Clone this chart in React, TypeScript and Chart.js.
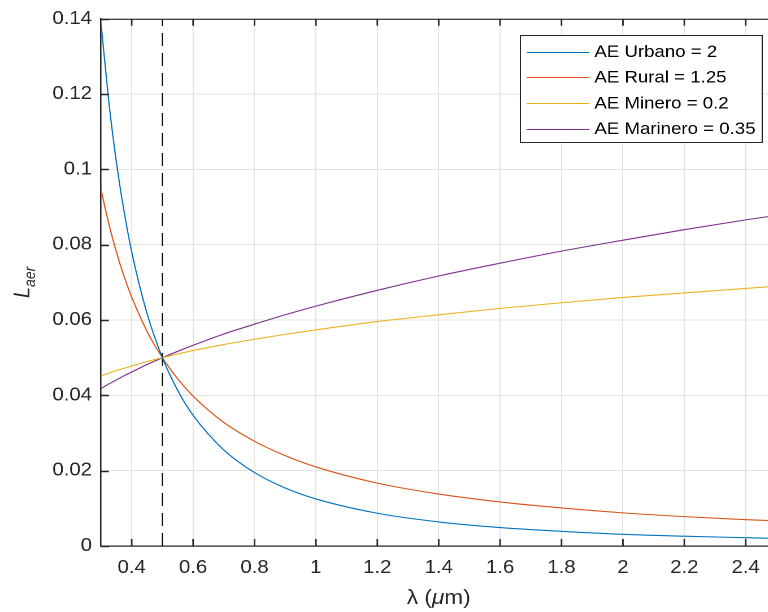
import React, { useEffect, useRef } from "react";
import { Chart, registerables } from "chart.js";

Chart.register(...registerables);

// Wavelength samples (µm)
const lambda = [0.3, 0.325, 0.35, 0.375, 0.4, 0.45, 0.5, 0.55, 0.6, 0.7, 0.8, 0.9, 1.0, 1.2, 1.4, 1.6, 1.8, 2.0, 2.2, 2.4, 2.5];

// Aerosol term for each aerosol type
const urbano = [0.1389, 0.1183, 0.102, 0.0889, 0.0781, 0.0617, 0.05, 0.0413, 0.0347, 0.0255, 0.0195, 0.0154, 0.0125, 0.0087, 0.0064, 0.0049, 0.0039, 0.0031, 0.0026, 0.0022, 0.002];
const rural = [0.0947, 0.0857, 0.0781, 0.0716, 0.0661, 0.057, 0.05, 0.0444, 0.0398, 0.0328, 0.0278, 0.024, 0.021, 0.0167, 0.0138, 0.0117, 0.0101, 0.0088, 0.0078, 0.007, 0.0067];
const minero = [0.0451, 0.0459, 0.0466, 0.0472, 0.0478, 0.049, 0.05, 0.051, 0.0519, 0.0535, 0.0549, 0.0562, 0.0574, 0.0596, 0.0614, 0.0631, 0.0646, 0.066, 0.0672, 0.0684, 0.069];
const marinero = [0.0418, 0.043, 0.0441, 0.0452, 0.0462, 0.0482, 0.05, 0.0517, 0.0533, 0.0563, 0.0589, 0.0614, 0.0637, 0.0679, 0.0717, 0.0751, 0.0783, 0.0812, 0.084, 0.0866, 0.0878];

const seriesLabels = ["AE Urbano = 2", "AE Rural = 1.25", "AE Minero = 0.2", "AE Marinero = 0.35"];
const seriesColors = ["#0072BD", "#D95319", "#EDB120", "#7E2F8E"];

// Reference wavelength marker
const refLambda = [0.5, 0.5];
const refLevel = [0, 0.14];

const xTicks = [0.4, 0.6, 0.8, 1.0, 1.2, 1.4, 1.6, 1.8, 2.0, 2.2, 2.4];
const yTicks = [0, 0.02, 0.04, 0.06, 0.08, 0.1, 0.12, 0.14];

const xMin = 0.3;
const xMax = 2.5;
const yMin = 0;
const yMax = 0.14;

// The figure is laid out on a narrower canvas and widened horizontally on screen
const STRETCH = 1.13;
const CANVAS_W = 700;
const CANVAS_H = 612;

const FONT = "'Liberation Sans', Arial, sans-serif";
const AXIS_COLOR = "#262626";
const GRID_COLOR = "#e3e3e3";

const fmt = (v: number) => String(Number(v.toFixed(2)));

const toPoints = (xs: number[], ys: number[]) => xs.map((x, i) => ({ x, y: ys[i] }));

// Box outline, inward tick marks, axis titles and an in-plot legend
const decorPlugin = {
  id: "decor",
  afterDraw(chart: any) {
    const { ctx, chartArea, scales } = chart;
    const xs = scales.x;
    const ys = scales.y;
    const { left, right, top, bottom } = chartArea;
    ctx.save();

    // top edge of the box
    ctx.strokeStyle = AXIS_COLOR;
    ctx.lineWidth = 1.2;
    ctx.beginPath();
    ctx.moveTo(left, top + 0.5);
    ctx.lineTo(right, top + 0.5);
    ctx.stroke();

    // inward ticks
    ctx.lineWidth = 1.4;
    ctx.beginPath();
    xs.ticks.forEach((t: any) => {
      const px = xs.getPixelForValue(t.value);
      ctx.moveTo(px, bottom);
      ctx.lineTo(px, bottom - 7);
      ctx.moveTo(px, top);
      ctx.lineTo(px, top + 7);
    });
    ys.ticks.forEach((t: any) => {
      const py = Math.round(ys.getPixelForValue(t.value)) + 0.5;
      ctx.moveTo(left, py);
      ctx.lineTo(left + 7, py);
      ctx.moveTo(right, py);
      ctx.lineTo(right - 7, py);
    });
    ctx.stroke();

    // x-axis title: λ (μm)
    ctx.fillStyle = AXIS_COLOR;
    ctx.textBaseline = "alphabetic";
    const xParts = [
      { t: "λ (", f: `20px ${FONT}` },
      { t: "μ", f: `italic 20px ${FONT}` },
      { t: "m)", f: `20px ${FONT}` },
    ];
    let total = 0;
    xParts.forEach((p) => {
      ctx.font = p.f;
      total += ctx.measureText(p.t).width;
    });
    let cx = (left + right) / 2 - total / 2;
    const xTitleY = 604;
    xParts.forEach((p) => {
      ctx.font = p.f;
      ctx.fillText(p.t, cx, xTitleY);
      cx += ctx.measureText(p.t).width;
    });

    // y-axis title: L_aer
    ctx.save();
    ctx.translate(26, (top + bottom) / 2);
    ctx.rotate(-Math.PI / 2);
    ctx.font = `italic 20px ${FONT}`;
    const wL = ctx.measureText("L").width;
    ctx.font = `italic 14px ${FONT}`;
    const wS = ctx.measureText("aer").width;
    const start = -(wL + wS) / 2;
    ctx.font = `italic 20px ${FONT}`;
    ctx.fillText("L", start, 0);
    ctx.font = `italic 14px ${FONT}`;
    ctx.fillText("aer", start + wL, 5);
    ctx.restore();

    // legend
    const items = chart.data.datasets.filter((d: any) => !d.hideInLegend);
    const boxW = 214;
    const rowH = 25.7;
    const boxH = 107;
    const bx = Math.round(right - 13 - boxW) + 0.5;
    const by = Math.round(top + 16) + 0.5;
    ctx.fillStyle = "#ffffff";
    ctx.fillRect(bx, by, boxW, boxH);
    ctx.strokeStyle = AXIS_COLOR;
    ctx.lineWidth = 1;
    ctx.strokeRect(bx, by, boxW, boxH);
    ctx.font = `16.5px ${FONT}`;
    ctx.textBaseline = "middle";
    items.forEach((d: any, i: number) => {
      const ry = by + 16 + i * rowH;
      ctx.strokeStyle = d.borderColor;
      ctx.lineWidth = 1.1;
      ctx.beginPath();
      ctx.moveTo(bx + 5.5, Math.round(ry) + 0.5);
      ctx.lineTo(bx + 61, Math.round(ry) + 0.5);
      ctx.stroke();
      ctx.fillStyle = "#000000";
      ctx.fillText(d.label, bx + 65.5, ry + 1);
    });

    ctx.restore();
  },
};

export default function App() {
  const canvasRef = useRef<HTMLCanvasElement | null>(null);

  useEffect(() => {
    const canvas = canvasRef.current;
    if (!canvas) return;
    Chart.defaults.font.family = FONT;

    const seriesValues = [urbano, rural, minero, marinero];
    const datasets: any[] = seriesValues.map((vals, i) => ({
      label: seriesLabels[i],
      data: toPoints(lambda, vals),
      borderColor: seriesColors[i],
      backgroundColor: seriesColors[i],
      borderWidth: 1.1,
      pointRadius: 0,
      cubicInterpolationMode: "monotone",
      fill: false,
    }));
    datasets.push({
      label: "ref",
      hideInLegend: true,
      data: toPoints(refLambda, refLevel),
      borderColor: "#000000",
      borderWidth: 1,
      borderDash: [13, 7],
      pointRadius: 0,
      fill: false,
    });

    const plotRight = 776.4 / STRETCH;
    const chart = new Chart(canvas, {
      type: "line",
      data: { datasets },
      options: {
        animation: false,
        responsive: false,
        maintainAspectRatio: false,
        devicePixelRatio: 2,
        layout: { padding: { left: 0, top: 14, right: CANVAS_W - plotRight, bottom: 0 } },
        plugins: {
          legend: { display: false },
          tooltip: { enabled: false },
        },
        scales: {
          x: {
            type: "linear",
            min: xMin,
            max: xMax,
            afterBuildTicks: (s: any) => {
              s.ticks = xTicks.map((v) => ({ value: v }));
            },
            afterFit: (s: any) => {
              s.height = 66;
            },
            grid: { color: GRID_COLOR, lineWidth: 1, drawTicks: false },
            border: { color: AXIS_COLOR, width: 1.3 },
            ticks: {
              color: AXIS_COLOR,
              font: { size: 18, family: FONT },
              padding: 11,
              maxRotation: 0,
              autoSkip: false,
              callback: (v: any) => fmt(Number(v)),
            },
          },
          y: {
            type: "linear",
            min: yMin,
            max: yMax,
            afterBuildTicks: (s: any) => {
              s.ticks = yTicks.map((v) => ({ value: v }));
            },
            afterFit: (s: any) => {
              s.width = 101 / STRETCH;
            },
            grid: { color: GRID_COLOR, lineWidth: 1, drawTicks: false },
            border: { color: AXIS_COLOR, width: 1.3 },
            ticks: {
              color: AXIS_COLOR,
              font: { size: 18, family: FONT },
              padding: 8,
              autoSkip: false,
              callback: (v: any) => fmt(Number(v)),
            },
          },
        },
      },
      plugins: [decorPlugin],
    });

    return () => chart.destroy();
  }, []);

  return (
    <div
      style={{
        position: "absolute",
        left: 0,
        top: 0,
        width: 768,
        height: 612,
        overflow: "hidden",
        background: "#ffffff",
      }}
    >
      <div style={{ transform: `scaleX(${STRETCH})`, transformOrigin: "0 0", width: CANVAS_W }}>
        <canvas
          ref={canvasRef}
          width={CANVAS_W}
          height={CANVAS_H}
          style={{ display: "block", width: CANVAS_W, height: CANVAS_H }}
        />
      </div>
    </div>
  );
}
